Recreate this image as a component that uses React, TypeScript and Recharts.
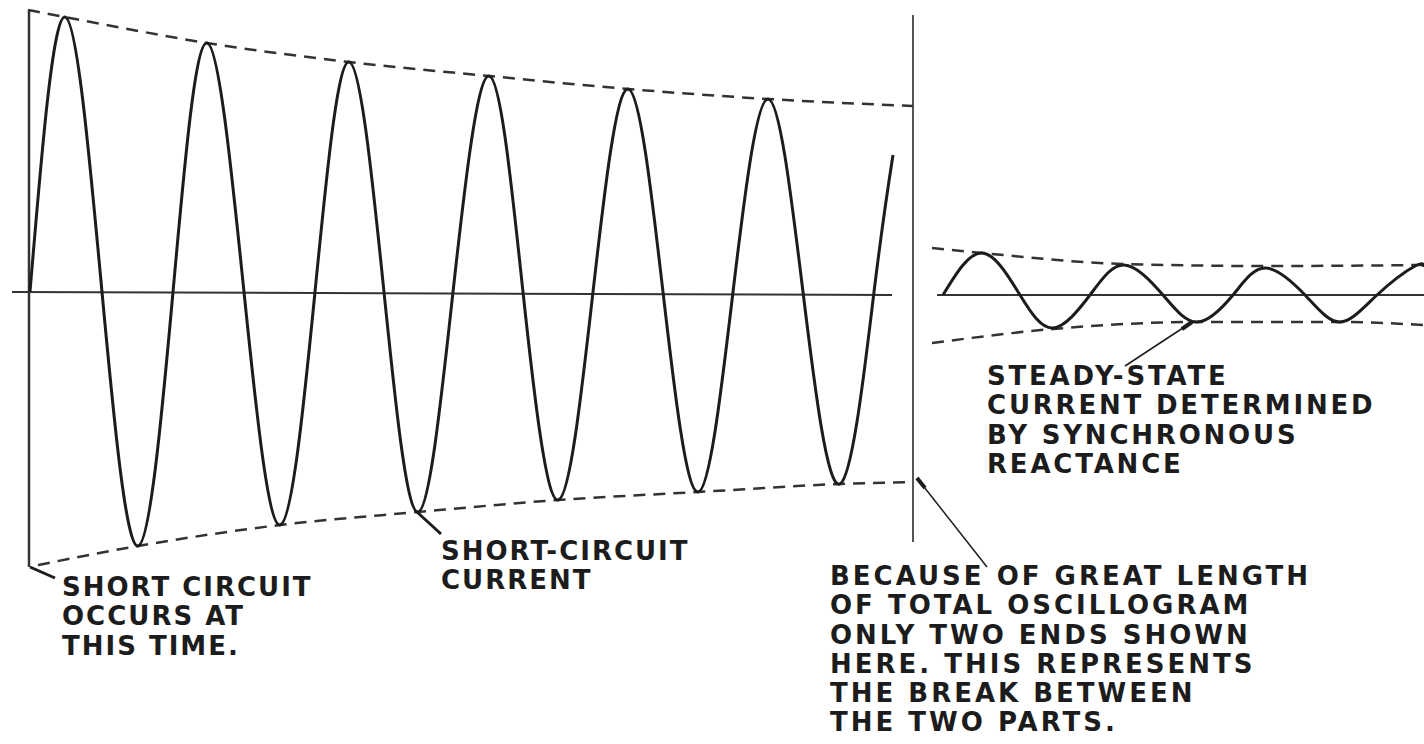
import React from "react";
import { ComposedChart, Line, ReferenceLine, XAxis, YAxis } from "recharts";

// before the break: time (px of trace) and current, zero on the left axis
const leftWave = [
  { t: 30, i: 0 }, { t: 65, i: 275 }, { t: 102, i: 0 }, { t: 138, i: -254 },
  { t: 173, i: 0 }, { t: 207, i: 249 }, { t: 244, i: 0 }, { t: 280, i: -233 },
  { t: 315, i: 0 }, { t: 349, i: 230 }, { t: 384, i: 0 }, { t: 418, i: -220 },
  { t: 453, i: 0 }, { t: 489, i: 216 }, { t: 523, i: 0 }, { t: 558, i: -208 },
  { t: 593, i: 0 }, { t: 628, i: 203 }, { t: 663, i: 0 }, { t: 698, i: -200 },
  { t: 733, i: 0 }, { t: 768, i: 193 }, { t: 803, i: 0 }, { t: 840, i: -192 },
  { t: 874, i: 0 }, { t: 893, i: 137 },
];
const leftUpper = [
  { t: 28, i: 282 }, { t: 65, i: 275 }, { t: 207, i: 249 }, { t: 349, i: 230 },
  { t: 489, i: 216 }, { t: 628, i: 203 }, { t: 768, i: 193 }, { t: 913, i: 186 },
];
const leftLower = [
  { t: 38, i: -273 }, { t: 138, i: -254 }, { t: 280, i: -233 }, { t: 418, i: -220 },
  { t: 558, i: -208 }, { t: 698, i: -200 }, { t: 840, i: -192 }, { t: 912, i: -190 },
];

// after the break: steady state, zero on the right axis
const rightWave = [
  { t: 943, i: 0 }, { t: 982, i: 42 }, { t: 1020, i: 0 }, { t: 1053, i: -33 },
  { t: 1090, i: 0 }, { t: 1124, i: 30 }, { t: 1163, i: 0 }, { t: 1197, i: -27 },
  { t: 1233, i: 0 }, { t: 1265, i: 27 }, { t: 1305, i: 0 }, { t: 1340, i: -27 },
  { t: 1377, i: 0 }, { t: 1415, i: 29 }, { t: 1424, i: 28 },
];
const rightUpper = [
  { t: 932, i: 47 }, { t: 982, i: 42 }, { t: 1124, i: 31 }, { t: 1265, i: 29 }, { t: 1424, i: 30 },
];
const rightLower = [
  { t: 932, i: -48 }, { t: 1053, i: -34 }, { t: 1197, i: -27 }, { t: 1340, i: -27 }, { t: 1424, i: -30 },
];

const noteShortCircuit = ["SHORT CIRCUIT", "OCCURS AT", "THIS TIME."];
const noteCurrent = ["SHORT-CIRCUIT", "CURRENT"];
const noteSteady = ["STEADY-STATE", "CURRENT DETERMINED", "BY SYNCHRONOUS", "REACTANCE"];
const noteBreak = [
  "BECAUSE OF GREAT LENGTH",
  "OF TOTAL OSCILLOGRAM",
  "ONLY TWO ENDS SHOWN",
  "HERE. THIS REPRESENTS",
  "THE BREAK BETWEEN",
  "THE TWO PARTS.",
];

const ink = "#1c1c1c";

const Note = ({
  lines,
  left,
  top,
  spacing = 2,
}: {
  lines: string[];
  left: number;
  top: number;
  spacing?: number;
}) => (
  <div
    style={{
      position: "absolute",
      left,
      top,
      fontFamily: "'DejaVu Sans', sans-serif",
      fontWeight: "bold",
      fontSize: 26,
      lineHeight: "29.3px",
      letterSpacing: spacing,
      color: ink,
      whiteSpace: "nowrap",
    }}
  >
    {lines.map((l) => (
      <div key={l}>{l}</div>
    ))}
  </div>
);

const App = () => {
  const dash = { stroke: "#333", strokeWidth: 2.5, strokeDasharray: "12 8" };
  return (
    <div style={{ position: "absolute", left: 0, top: 0, width: 1424, height: 744, background: "#fff" }}>
      <ComposedChart width={1424} height={744} margin={{ top: 0, right: 0, bottom: 0, left: 0 }}>
        <XAxis type="number" dataKey="t" domain={[0, 1424]} hide allowDataOverflow />
        <YAxis yAxisId="left" domain={[-452, 292]} hide allowDataOverflow />
        <YAxis yAxisId="right" orientation="right" domain={[-449, 295]} hide allowDataOverflow />

        {/* zero lines, start marker and the break */}
        <ReferenceLine yAxisId="left" segment={[{ x: 12, y: 0 }, { x: 892, y: -3 }]} stroke="#333" strokeWidth={2} />
        <ReferenceLine yAxisId="right" segment={[{ x: 937, y: 0 }, { x: 1424, y: 0 }]} stroke="#333" strokeWidth={2} />
        <ReferenceLine yAxisId="left" segment={[{ x: 29, y: 282 }, { x: 29, y: -275 }]} stroke="#333" strokeWidth={2.5} />
        <ReferenceLine yAxisId="left" segment={[{ x: 913, y: 277 }, { x: 913, y: -250 }]} stroke="#555" strokeWidth={2} />

        {/* leaders */}
        <ReferenceLine yAxisId="left" segment={[{ x: 30, y: -275 }, { x: 55, y: -286 }]} stroke={ink} strokeWidth={3} />
        <ReferenceLine yAxisId="left" segment={[{ x: 417, y: -220 }, { x: 441, y: -242 }]} stroke={ink} strokeWidth={3} />
        <ReferenceLine yAxisId="left" segment={[{ x: 917, y: -186 }, { x: 987, y: -275 }]} stroke={ink} strokeWidth={1.5} />
        <ReferenceLine yAxisId="left" segment={[{ x: 917, y: -186 }, { x: 925, y: -196 }]} stroke={ink} strokeWidth={4} />
        <ReferenceLine yAxisId="right" segment={[{ x: 1192, y: -27 }, { x: 1125, y: -71 }]} stroke={ink} strokeWidth={1.5} />
        <ReferenceLine yAxisId="right" segment={[{ x: 1192, y: -27 }, { x: 1182, y: -34 }]} stroke={ink} strokeWidth={4} />

        <Line yAxisId="left" data={leftUpper} dataKey="i" type="monotone" dot={false} activeDot={false} {...dash} isAnimationActive={false} />
        <Line yAxisId="left" data={leftLower} dataKey="i" type="monotone" dot={false} activeDot={false} {...dash} isAnimationActive={false} />
        <Line yAxisId="right" data={rightUpper} dataKey="i" type="monotone" dot={false} activeDot={false} {...dash} isAnimationActive={false} />
        <Line yAxisId="right" data={rightLower} dataKey="i" type="monotone" dot={false} activeDot={false} {...dash} isAnimationActive={false} />

        <Line yAxisId="left" data={leftWave} dataKey="i" type="natural" dot={false} activeDot={false} stroke={ink} strokeWidth={3} isAnimationActive={false} />
        <Line yAxisId="right" data={rightWave} dataKey="i" type="natural" dot={false} activeDot={false} stroke={ink} strokeWidth={3} isAnimationActive={false} />
      </ComposedChart>

      <Note lines={noteShortCircuit} left={62} top={573} />
      <Note lines={noteCurrent} left={441} top={537} />
      <Note lines={noteSteady} left={987} top={362} spacing={2.8} />
      <Note lines={noteBreak} left={830} top={562} spacing={3} />
    </div>
  );
};

export default App;
